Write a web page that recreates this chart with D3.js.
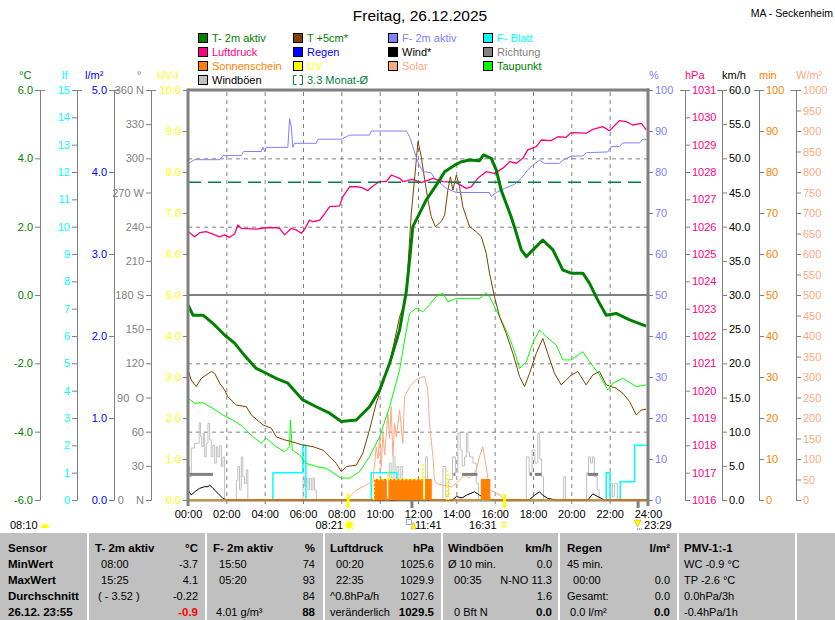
<!DOCTYPE html>
<html>
<head>
<meta charset="utf-8">
<script src="https://cdn.jsdelivr.net/npm/d3@7"></script>
<style>
  body { margin: 0; background: #fff; }
  svg { display: block; }
  svg text { font-family: "Liberation Sans", Arial, Helvetica, sans-serif; font-size: 11px; white-space: pre; }
</style>
</head>
<body>
<svg id="chart" width="835" height="620"></svg>
<script>
// ---- data (hour of day, value) ----
const temp2m = [[0,-0.29],[0.26,-0.59],[0.78,-0.59],[1.3,-0.83],[1.91,-1.17],[2.43,-1.41],[2.86,-1.71],[3.56,-2.15],[4.08,-2.29],[4.6,-2.44],[5.21,-2.58],[5.99,-3.07],[6.69,-3.27],[7.39,-3.46],[8.0,-3.7],[8.78,-3.66],[9.47,-3.27],[10.0,-2.78],[10.52,-2.0],[11.04,-1.02],[11.39,0.1],[11.56,1.02],[11.73,2.0],[12.08,2.39],[12.43,2.78],[12.78,3.07],[13.13,3.37],[13.39,3.61],[13.91,3.8],[14.26,3.9],[14.69,3.95],[15.21,3.93],[15.42,4.1],[15.82,4.0],[16.08,3.66],[16.34,3.07],[16.6,2.68],[16.86,2.29],[17.13,1.81],[17.39,1.32],[17.65,1.12],[18.0,1.32],[18.51,1.61],[19.04,1.32],[19.56,0.73],[20.0,0.64],[20.6,0.64],[20.95,0.34],[21.38,-0.15],[21.82,-0.59],[22.34,-0.54],[23.04,-0.73],[23.9,-0.91]];

const temp5cm = [[0,-2.19],[0.17,-2.49],[0.43,-2.68],[0.69,-2.44],[1.21,-2.24],[1.39,-2.29],[1.65,-2.58],[1.91,-2.78],[2.08,-2.98],[2.52,-3.22],[3.04,-3.27],[3.3,-3.51],[3.91,-3.8],[4.35,-3.9],[4.6,-4.15],[5.04,-4.24],[5.39,-4.29],[5.99,-4.39],[6.52,-4.44],[7.04,-4.54],[7.74,-4.93],[8.0,-5.17],[8.26,-5.02],[8.78,-4.98],[9.12,-4.63],[9.47,-3.95],[9.82,-3.17],[10.17,-2.58],[10.52,-2.0],[11.04,-0.64],[11.3,-0.24],[11.39,0.06],[11.65,2.39],[11.83,3.46],[12.0,4.49],[12.17,4.05],[12.35,3.37],[12.52,2.78],[12.69,2.29],[12.91,2.0],[13.21,2.15],[13.39,2.34],[13.56,3.07],[13.69,3.46],[13.82,3.07],[14.0,3.51],[14.17,3.17],[14.34,2.58],[14.69,2.0],[15.04,1.85],[15.3,1.71],[15.56,1.22],[15.73,0.64],[15.99,-0.05],[16.26,-0.64],[16.6,-1.12],[16.95,-1.71],[17.3,-2.39],[17.56,-2.68],[17.82,-2.29],[18.17,-1.71],[18.51,-1.27],[18.77,-1.71],[19.12,-2.29],[19.47,-2.63],[19.73,-2.49],[20.0,-2.34],[20.34,-2.24],[20.77,-2.63],[21.12,-2.34],[21.47,-2.24],[21.82,-2.63],[22.34,-2.73],[22.69,-2.88],[23.04,-3.12],[23.39,-3.51],[23.65,-3.37],[23.9,-3.34]];

const dewPoint = [[0,-3.02],[0.35,-3.17],[0.78,-3.15],[1.3,-3.32],[1.82,-3.51],[2.34,-3.66],[2.86,-3.85],[3.39,-4.15],[3.82,-4.34],[4.08,-4.19],[4.6,-4.44],[5.04,-4.59],[5.3,-4.44],[5.34,-3.66],[5.44,-4.54],[5.82,-4.68],[6.17,-4.93],[6.69,-5.02],[7.21,-5.07],[7.74,-5.27],[8.0,-5.36],[8.43,-5.36],[8.95,-5.17],[9.47,-4.73],[10.0,-4.15],[10.52,-3.27],[11.04,-2.19],[11.3,-1.32],[11.56,-0.54],[11.91,-0.39],[12.26,-0.49],[12.6,-0.29],[12.95,-0.05],[13.3,0.05],[13.56,-0.2],[14.0,-0.1],[14.52,-0.1],[15.21,-0.1],[15.56,0.07],[15.73,-0.05],[16.08,-0.44],[16.43,-0.83],[16.78,-1.27],[17.04,-1.66],[17.3,-2.15],[17.65,-1.95],[17.99,-1.41],[18.34,-1.02],[18.69,-1.22],[19.21,-1.46],[19.56,-1.9],[19.99,-1.9],[20.6,-1.66],[20.95,-1.95],[21.47,-2.34],[21.9,-2.78],[22.17,-2.58],[22.69,-2.44],[23.39,-2.68],[23.9,-2.63]];

const humidity = [[0,82],[0.34,83],[1.65,83],[1.82,84],[2.78,84],[2.9,85],[3.82,85],[3.91,86],[4.0,85],[4.09,86],[5.21,86],[5.3,93],[5.39,91],[5.47,86],[5.56,87],[6.69,87],[6.78,88],[8.0,88],[8.43,89],[9.47,89],[9.56,90],[11.39,90],[11.56,88.6],[11.73,86.2],[11.99,82.5],[12.25,80.1],[12.69,79.8],[12.86,78.5],[13.47,76],[14.0,75],[15.73,75],[15.83,74],[16.08,75],[16.52,76],[17.04,77],[17.39,78.5],[17.73,80.5],[17.99,81.7],[18.34,82.9],[18.6,82.1],[19.38,82.1],[19.56,82.9],[20.0,83.9],[20.6,83.9],[20.78,84.7],[21.9,84.9],[22.08,86.2],[22.51,86.2],[22.69,87.1],[23.56,87.1],[23.73,88],[23.91,88]];

const pressure = [[0,1025.82],[0.35,1025.63],[0.61,1025.78],[0.95,1025.82],[1.3,1025.73],[1.65,1025.63],[1.91,1025.7],[2.17,1025.61],[2.43,1025.73],[2.6,1026.06],[2.78,1025.94],[3.56,1025.91],[4.08,1025.96],[4.61,1025.96],[4.78,1025.94],[5.04,1025.7],[5.39,1025.94],[5.65,1025.88],[5.91,1025.76],[6.08,1025.9],[6.34,1026.24],[6.52,1026.18],[6.87,1026.24],[7.04,1026.39],[7.39,1026.73],[7.91,1026.76],[8.08,1027.1],[8.43,1027.46],[8.78,1027.46],[9.04,1027.44],[9.38,1027.32],[9.65,1027.49],[9.99,1027.65],[10.34,1027.65],[10.61,1027.89],[11.04,1027.77],[11.21,1027.65],[11.73,1027.73],[12.17,1027.61],[12.78,1027.77],[13.3,1027.65],[14.0,1027.61],[14.52,1027.4],[14.78,1027.46],[15.12,1027.77],[15.56,1028.01],[15.99,1027.95],[16.43,1028.14],[16.78,1028.38],[17.13,1028.32],[17.47,1028.5],[17.73,1028.81],[18.17,1028.93],[18.43,1029.17],[18.95,1029.15],[19.3,1029.29],[19.73,1029.27],[19.99,1029.44],[20.78,1029.42],[21.12,1029.56],[21.64,1029.66],[21.99,1029.51],[22.51,1029.88],[22.86,1029.84],[23.21,1029.72],[23.65,1029.78],[23.91,1029.54]];

const gust = [[0,4.9],[0.08,3.4],[0.17,7.6],[0.34,8.3],[0.58,11.3],[0.65,9.3],[0.72,7.8],[0.8,9.8],[0.87,6.3],[0.95,8.3],[1.04,11.2],[1.13,8.8],[1.21,6.3],[1.3,8.0],[1.39,5.4],[1.48,7.8],[1.56,6.3],[1.65,8.0],[1.74,4.9],[1.82,6.3],[1.91,0],
  [2.45,0],[2.52,2.9],[2.6,4.9],[2.69,1.5],[2.78,6.3],[2.86,3.4],[2.95,2.4],[3.04,4.4],[3.12,0],
  [5.95,0],[6.0,3.4],[6.08,2.0],[6.17,3.2],[6.26,1.5],[6.34,3.2],[6.43,1.5],[6.52,3.2],[6.6,1.5],[6.69,0],
  [10.4,0],[10.5,5.4],[10.6,2.0],[10.7,6.3],[10.8,1.5],[10.9,4.9],[11.0,2.0],[11.1,4.9],[11.2,0],
  [12.3,0],[12.4,6.3],[12.5,1.5],[12.6,0],
  [13.2,0],[13.3,4.9],[13.45,0.5],[13.6,3.0],[13.8,6.3],[13.95,4.0],[14.08,9.8],[14.2,7.3],[14.3,5.0],[14.43,6.3],[14.52,9.8],[14.6,7.0],[14.69,6.3],[14.87,5.4],[15.04,2.4],[15.15,0],
  [17.55,0],[17.65,6.3],[17.8,4.0],[17.95,7.3],[18.1,5.4],[18.25,9.8],[18.35,6.0],[18.45,3.4],[18.55,0],
  [19.5,0],[19.6,3.4],[19.7,0],
  [20.7,0],[20.8,4.0],[20.9,6.3],[21.0,5.4],[21.1,6.3],[21.2,3.4],[21.35,1.5],[21.45,0],
  [21.95,0],[22.05,2.4],[22.15,0.5],[22.25,2.4],[22.4,0],[24,0]];

const wind = [[0,1.46],[0.17,0.73],[0.35,1.2],[0.6,1.7],[0.87,1.95],[1.04,1.95],[1.13,2.2],[1.3,1.7],[1.56,0.98],[1.82,0.24],[2.0,0],[13.8,0],[14.0,0.5],[14.3,0.3],[14.52,0.7],[14.95,1.2],[15.21,0.7],[15.56,0.24],[15.9,0],[17.8,0],[18.08,0.7],[18.34,1.2],[18.51,0.7],[18.77,0.24],[19.21,0],[20.86,0],[21.12,0.9],[21.38,0.5],[21.73,0],[24,0]];

// direction: [from hour, to hour, degrees]
const direction = [[0.1,1.3,22.5],[13.85,13.95,22.5],[14.3,15.1,22.5],[17.82,17.95,22.5],[18.1,18.45,22.5],[20.85,21.4,22.5]];

const solar = [[8.26,0],[8.78,24],[9.47,41],[9.65,45],[9.82,130],[9.91,100],[10.0,154],[10.08,80],[10.17,163],[10.26,110],[10.43,211],[10.52,150],[10.6,228],[10.69,106],[10.78,187],[10.87,154],[11.04,220],[11.21,138],[11.3,252],[11.56,276],[11.91,293],[12.34,302],[12.51,268],[12.6,187],[12.69,146],[12.78,106],[12.86,49],[12.95,41],[13.21,37],[13.74,32],[14.0,41],[14.43,61],[14.69,53],[15.04,73],[15.21,106],[15.38,130],[15.56,81],[15.73,24],[15.99,20],[16.25,12],[16.51,2],[16.62,0]];

const sunshine = [[0,0],[9.73,5],[10.35,0],[10.48,5],[12.25,0],[12.4,5],[12.69,0],[15.3,5],[15.75,0],[24,0]];

const uvIndex = [[9.7,0],[9.73,0.5],[10.4,0.5],[10.45,0.7],[10.5,0.5],[12.22,0.5],[12.27,0.9],[12.32,0],[null,null],[13.5,0],[13.55,0.7],[13.6,0]];

const leafWet = [[0,0],[4.4,0],[4.43,1],[5.91,1],[5.99,2],[6.08,2],[6.15,0],[9.54,0],[9.56,1],[10.87,1],[10.9,0],[21.8,0],[21.82,1],[22.0,1],[22.02,0],[22.53,0],[22.55,0.67],[23.28,0.67],[23.3,2],[23.95,2]];

const rain = [[0,0],[24,0]];
const monthAvg = 3.3;

// sun / moon events
const moonRise = "08:10";
const sunEvents = [["08:21", 8.35], ["11:41", 11.683], ["16:31", 16.517], ["23:29", 23.483]];

// axis tick labels
const tempTicks = [-6, -4, -2, 0, 2, 4, 6];
const dirLabels = {360: "360 N", 330: "330", 300: "300", 270: "270 W", 240: "240", 210: "210", 180: "180 S", 150: "150", 120: "120", 90: "90  O", 60: "60", 30: "30", 0: "0    N"};
const hourTicks = d3.range(0, 25, 2);

// legend: [label, box colour, text colour], column by column
const legendCols = [
  [["T- 2m aktiv", "#008000", "#008000"], ["Luftdruck", "#ff0080", "#ff0080"], ["Sonnenschein", "#ff8000", "#ff8000"], ["Windböen", "#c0c0c0", "#000000"]],
  [["T +5cm*", "#804000", "#008000"], ["Regen", "#0000ff", "#0000ff"], ["UV", "#ffff00", "#ffff00"], ["3.3 Monat-Ø", null, "#008040"]],
  [["F- 2m aktiv", "#8080ff", "#8080ff"], ["Wind*", "#000000", "#000000"], ["Solar", "#ffa880", "#ffa880"]],
  [["F- Blatt", "#00ffff", "#00ffff"], ["Richtung", "#808080", "#808080"], ["Taupunkt", "#00ff00", "#008000"]]
];

// summary table
const tblHeads = ["Sensor", "T- 2m aktiv", "F- 2m aktiv", "Luftdruck", "Windböen", "Regen", "PMV-1:-1"];
const tblUnits = ["", "°C", "%", "hPa", "km/h", "l/m²", ""];
const tblRowNames = ["MinWert", "MaxWert", "Durchschnitt", "26.12. 23:55"];
const tblLeft = [
  ["  08:00", "  15:25", " ( - 3.52 )", ""],
  ["  15:50", "  05:20", "", " 4.01 g/m³"],
  ["  00:20", "  22:35", "^0.8hPa/h", "veränderlich"],
  ["Ø 10 min.", "  00:35", "", "  0 Bft N"],
  ["45 min.", "  00:00", "Gesamt:", " 0.0 l/m²"],
  ["WC -0.9 °C", "TP -2.6 °C", "0.0hPa/3h", "-0.4hPa/1h"]
];
const tblRight = [
  ["-3.7", "4.1", "-0.22", "-0.9"],
  ["74", "93", "84", "88"],
  ["1025.6", "1029.9", "1027.6", "1029.5"],
  ["0.0", "N-NO 11.3", "1.6", "0.0"],
  ["", "0.0", "0.0", "0.0"],
  ["", "", "", ""]
];

// ---- layout ----
const W = 835, H = 620;
const plotTop = 90, plotBot = 500, plotL = 188, plotR = 648;
const svg = d3.select("#chart");
const GRID = "#808080";

const x = d3.scaleLinear().domain([0, 24]).range([plotL, plotR]);
const yT = d3.scaleLinear().domain([-6, 6]).range([plotBot, plotTop]);
const yLf = d3.scaleLinear().domain([0, 15]).range([plotBot, plotTop]);
const yRain = d3.scaleLinear().domain([0, 5]).range([plotBot, plotTop]);
const yDir = d3.scaleLinear().domain([0, 360]).range([plotBot, plotTop]);
const yUV = d3.scaleLinear().domain([0, 10]).range([plotBot, plotTop]);
const yHum = d3.scaleLinear().domain([0, 100]).range([plotBot, plotTop]);
const yP = d3.scaleLinear().domain([1016, 1031]).range([plotBot, plotTop]);
const yWind = d3.scaleLinear().domain([0, 60]).range([plotBot, plotTop]);
const yMin = d3.scaleLinear().domain([0, 100]).range([plotBot, plotTop]);
const ySol = d3.scaleLinear().domain([0, 1000]).range([plotBot, plotTop]);

// title
svg.append("text").attr("x", 420).attr("y", 21).attr("text-anchor", "middle")
  .style("font-size", "15.5px").text("Freitag, 26.12.2025");
svg.append("text").attr("x", 833).attr("y", 16.5).attr("text-anchor", "end")
  .style("font-size", "10.5px").text("MA - Seckenheim");

// legend
const legX = [198, 293, 388, 483];
legendCols.forEach((col, ci) => {
  col.forEach((it, ri) => {
    const ly = 33 + ri * 14;
    if (it[1]) {
      svg.append("rect").attr("x", legX[ci] + 0.5).attr("y", ly + 0.5).attr("width", 9).attr("height", 9)
        .attr("fill", it[1]).attr("stroke", "#000");
    } else {
      svg.append("path").attr("d", `M${legX[ci] + 3.5},${ly + 0.5}H${legX[ci] + 0.5}V${ly + 9.5}H${legX[ci] + 3.5}M${legX[ci] + 6.5},${ly + 0.5}H${legX[ci] + 9.5}V${ly + 9.5}H${legX[ci] + 6.5}`)
        .attr("fill", "none").attr("stroke", it[2]);
    }
    svg.append("text").attr("x", legX[ci] + 14).attr("y", ly + 9).attr("fill", it[2]).text(it[0]);
  });
});

// vertical axes
function vAxis(scale, xPos, side, values, fmt, color, unit, unitX) {
  const ax = (side === "left" ? d3.axisLeft(scale) : d3.axisRight(scale))
    .tickValues(values).tickFormat(fmt).tickSize(5).tickSizeOuter(0).tickPadding(2);
  const g = svg.append("g").attr("transform", `translate(${xPos},0)`).call(ax);
  g.select(".domain").attr("stroke", GRID);
  g.selectAll(".tick line").attr("stroke", GRID);
  g.selectAll(".tick text").attr("fill", color);
  g.append("line").attr("x1", -5).attr("x2", 5).attr("y1", plotTop + 0.5).attr("y2", plotTop + 0.5).attr("stroke", GRID);
  svg.append("text").attr("x", unitX).attr("y", 79).attr("fill", color).text(unit);
}
const f1 = d => d.toFixed(1);
vAxis(yT, 40, "left", tempTicks, f1, "#008000", "°C", 19);
vAxis(yLf, 77, "left", d3.range(0, 16), d => d, "#00ffff", "lf", 62);
vAxis(yRain, 114, "left", d3.range(0, 6), f1, "#0000ff", "l/m²", 85);
vAxis(yDir, 151, "left", d3.range(0, 361, 30), d => dirLabels[d], GRID, "°", 137);
vAxis(yUV, plotL, "left", d3.range(0, 11), f1, "#ffff00", "UV-I", 157);
vAxis(yHum, plotR, "right", d3.range(0, 101, 10), d => d, "#8080ff", "%", 649);
vAxis(yP, 685, "right", d3.range(1016, 1032), d => d, "#ff0080", "hPa", 685);
vAxis(yWind, 722, "right", d3.range(0, 61, 5), f1, "#000000", "km/h", 722);
vAxis(yMin, 759, "right", d3.range(0, 101, 10), d => d, "#ff8000", "min", 759);
vAxis(ySol, 796, "right", d3.range(0, 1001, 50), d => d, "#ffa880", "W/m²", 796);

// grid
const grid = svg.append("g");
hourTicks.slice(1, -1).forEach(h => {
  grid.append("line").attr("x1", x(h) + 0.5).attr("x2", x(h) + 0.5).attr("y1", plotTop + 2).attr("y2", plotBot)
    .attr("stroke", GRID).attr("stroke-dasharray", "4,4");
});
[-4, -2, 2, 4].forEach(t => {
  grid.append("line").attr("x1", plotL).attr("x2", plotR).attr("y1", yT(t) + 0.5).attr("y2", yT(t) + 0.5)
    .attr("stroke", GRID).attr("stroke-dasharray", "4,4");
});
grid.append("line").attr("x1", plotL).attr("x2", plotR).attr("y1", yT(0)).attr("y2", yT(0))
  .attr("stroke", GRID).attr("stroke-width", 2);

// x axis
const xg = svg.append("g").attr("transform", `translate(0,${plotBot})`)
  .call(d3.axisBottom(x).tickValues(hourTicks).tickSize(4).tickSizeOuter(0).tickPadding(6)
    .tickFormat(d => String(d).padStart(2, "0") + ":00"));
xg.select(".domain").attr("stroke", GRID).attr("stroke-width", 2);
xg.selectAll(".tick line").attr("stroke", GRID);
xg.selectAll(".tick text").attr("fill", "#000");

// series
const marks = svg.append("g");
const lineOf = (ys, curve) => d3.line().defined(d => d[0] !== null).x(d => x(d[0])).y(d => ys(d[1])).curve(curve || d3.curveLinear);
function drawLine(data, ys, color, width, curve, dash) {
  marks.append("path").datum(data).attr("d", lineOf(ys, curve)).attr("fill", "none")
    .attr("stroke", color).attr("stroke-width", width).attr("stroke-linejoin", "round")
    .attr("stroke-dasharray", dash || null);
}

drawLine(rain, yRain, "#0000ff", 1);
drawLine(gust, yWind, "#c0c0c0", 1, d3.curveStepAfter);
drawLine(leafWet, yLf, "#00ffff", 1.5, d3.curveStepAfter);
drawLine(solar, ySol, "#ffa880", 1);
drawLine(wind, yWind, "#000000", 1);
direction.forEach(d => {
  marks.append("line").attr("x1", x(d[0])).attr("x2", x(d[1])).attr("y1", yDir(d[2])).attr("y2", yDir(d[2]))
    .attr("stroke", GRID).attr("stroke-width", 3);
});
marks.append("path").datum(sunshine)
  .attr("d", d3.area().x(d => x(d[0])).y0(plotBot).y1(d => yMin(d[1])).curve(d3.curveStepAfter))
  .attr("fill", "#ff8000").attr("stroke", "#ff8000").attr("stroke-width", 1);
drawLine(uvIndex, yUV, "#ffff00", 1.5, d3.curveLinear, "2,2");
drawLine(dewPoint, yT, "#00ff00", 1);
drawLine(temp5cm, yT, "#804000", 1);
drawLine(humidity, yHum, "#8080ff", 1);
drawLine(pressure, yP, "#ff0080", 1.3);
marks.append("line").attr("x1", plotL).attr("x2", plotR).attr("y1", yT(monthAvg)).attr("y2", yT(monthAvg))
  .attr("stroke", "#008040").attr("stroke-width", 1.5).attr("stroke-dasharray", "13,7");
drawLine(temp2m, yT, "#008000", 3, d3.curveLinear);

// plot frame
svg.append("line").attr("x1", plotL).attr("x2", plotR + 1.5).attr("y1", plotTop).attr("y2", plotTop).attr("stroke", GRID).attr("stroke-width", 3);
svg.append("line").attr("x1", plotL).attr("x2", plotL).attr("y1", plotTop - 1.5).attr("y2", plotBot + 6).attr("stroke", GRID).attr("stroke-width", 3);
svg.append("line").attr("x1", plotR).attr("x2", plotR).attr("y1", plotTop - 1.5).attr("y2", plotBot + 6).attr("stroke", GRID).attr("stroke-width", 3);

// sun / moon markers
const ev = svg.append("g");
sunEvents.forEach(([t, h], i) => {
  const px = x(h);
  const yellow = i === 0 || i === 2;
  ev.append("line").attr("x1", px).attr("x2", px).attr("y1", plotBot - (yellow ? 6 : 0)).attr("y2", plotBot + 8)
    .attr("stroke", yellow ? "#ffff00" : GRID).attr("stroke-width", 3);
});
ev.append("text").attr("x", 10).attr("y", 529).text(moonRise);
ev.append("path").attr("d", "M41,528A4,4 0 0 1 49,528Z").attr("fill", "#ffff00");
// sunrise
const sr = x(sunEvents[0][1]);
ev.append("text").attr("x", sr - 5).attr("y", 529).attr("text-anchor", "end").text(sunEvents[0][0]);
ev.append("circle").attr("cx", sr + 1).attr("cy", 525).attr("r", 3.5).attr("fill", "#ffff00");
d3.range(8).forEach(k => {
  const a = k * Math.PI / 4;
  ev.append("line").attr("x1", sr + 1 + Math.cos(a) * 4).attr("y1", 525 + Math.sin(a) * 4)
    .attr("x2", sr + 1 + Math.cos(a) * 6).attr("y2", 525 + Math.sin(a) * 6).attr("stroke", "#ffff00");
});
// noon
const sn = x(sunEvents[1][1]);
ev.append("rect").attr("x", sn - 5.5).attr("y", 519.5).attr("width", 5).attr("height", 5).attr("fill", "none")
  .attr("stroke", "#4040ff").attr("stroke-dasharray", "1,1");
ev.append("path").attr("d", `M${sn - 1},529L${sn + 1.5},522L${sn + 4},529Z`).attr("fill", "#ffff00").attr("stroke", "#c0a000").attr("stroke-width", 0.5);
ev.append("text").attr("x", sn + 3).attr("y", 529).text(sunEvents[1][0]);
// sunset
const ss = x(sunEvents[2][1]);
ev.append("text").attr("x", ss - 8).attr("y", 529).attr("text-anchor", "end").text(sunEvents[2][0]);
ev.append("rect").attr("x", ss - 2.5).attr("y", 522.5).attr("width", 4).attr("height", 4).attr("fill", "none").attr("stroke", "#ffff00");
// moonset
const ms = x(sunEvents[3][1]);
ev.append("path").attr("d", `M${ms - 4},520L${ms + 3},520L${ms - 0.5},527Z`).attr("fill", "#ffff00").attr("stroke", "#c0a000").attr("stroke-width", 0.5);
ev.append("path").attr("d", `M${ms - 1},529H${ms + 5}`).attr("stroke", "#4040ff").attr("stroke-dasharray", "1,1");
ev.append("text").attr("x", ms + 6).attr("y", 529).text(sunEvents[3][0]);

// summary table
const tblTop = 533;
const tbl = svg.append("g");
tbl.append("rect").attr("x", 0).attr("y", tblTop).attr("width", W).attr("height", H - tblTop).attr("fill", "#c0c0c0");
[87, 205, 323, 441, 558, 677, 795].forEach(cx => {
  tbl.append("rect").attr("x", cx).attr("y", tblTop).attr("width", 2).attr("height", H - tblTop).attr("fill", "#fff");
});
const colX = [8, 95, 213, 330, 448, 567, 684];
const colEnd = [0, 198, 315, 434, 552, 670, 0];
const rowY = [552, 568, 584, 600, 616];
const bold = sel => sel.style("font-weight", "bold").style("font-size", "11.5px");

tblHeads.forEach((hd, c) => {
  bold(tbl.append("text").attr("x", colX[c]).attr("y", rowY[0]).text(hd));
  if (tblUnits[c]) bold(tbl.append("text").attr("x", colEnd[c]).attr("y", rowY[0]).attr("text-anchor", "end").text(tblUnits[c]));
});
tblRowNames.forEach((nm, r) => bold(tbl.append("text").attr("x", colX[0]).attr("y", rowY[r + 1]).text(nm)));
tblLeft.forEach((col, ci) => {
  col.forEach((s, r) => {
    if (s) tbl.append("text").attr("x", colX[ci + 1]).attr("y", rowY[r + 1]).text(s);
  });
});
tblRight.forEach((col, ci) => {
  col.forEach((s, r) => {
    if (!s) return;
    const t = tbl.append("text").attr("x", colEnd[ci + 1]).attr("y", rowY[r + 1]).attr("text-anchor", "end").text(s);
    if (r === 3) {
      bold(t);
      if (ci === 0) t.attr("fill", "#ff0000");
    }
  });
});
</script>
</body>
</html>
